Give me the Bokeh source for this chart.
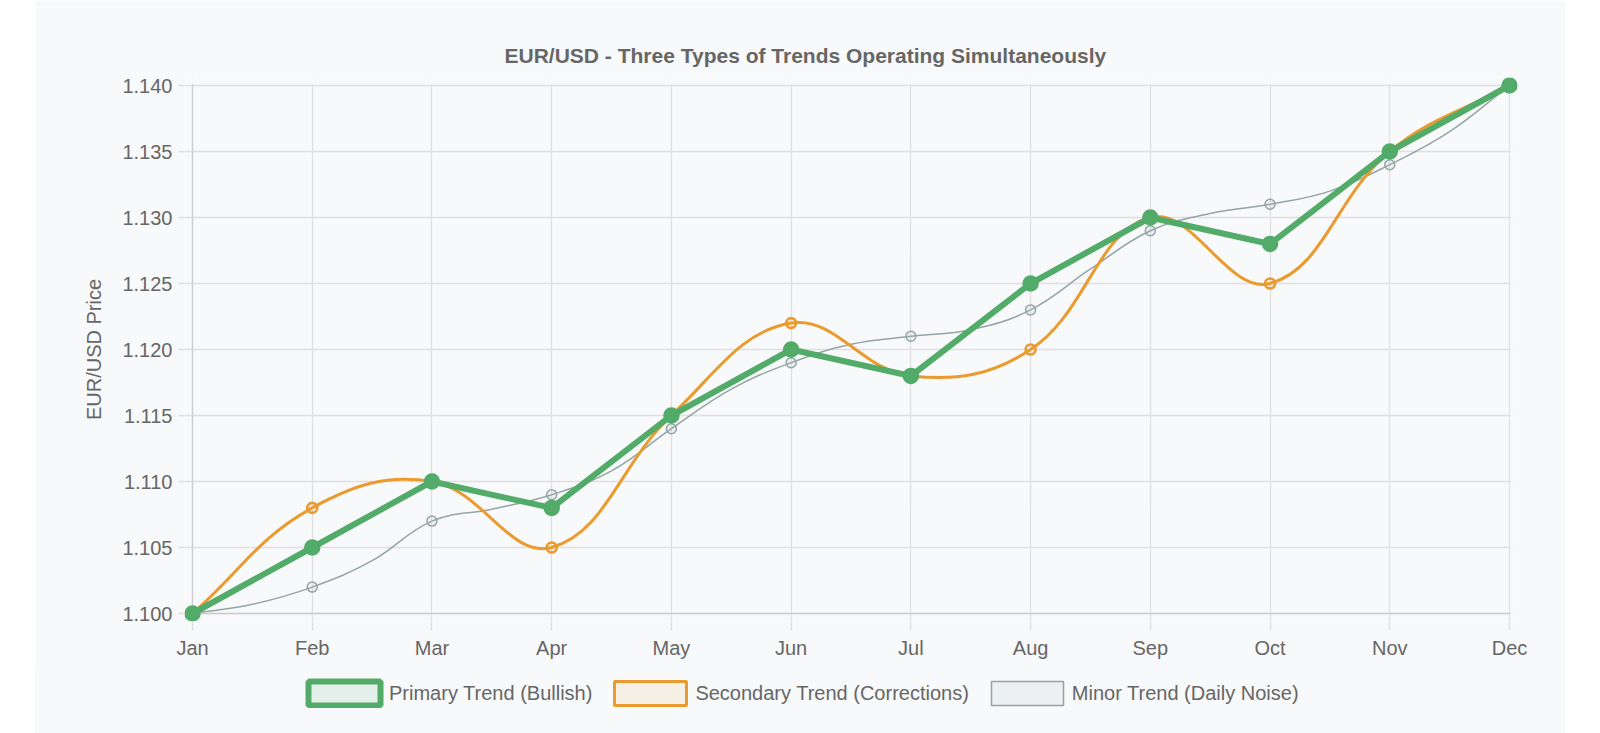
import math
from bokeh.plotting import figure
from bokeh.models import (Range1d, FixedTicker, NumeralTickFormatter, Legend, LegendItem,
                          Title, ColumnDataSource, Spacer, BoxAnnotation, Grid)
from bokeh.layouts import row, column
from bokeh.embed import file_html
from bokeh.resources import INLINE

# ---------------- data ----------------
months = ["Jan", "Feb", "Mar", "Apr", "May", "Jun", "Jul", "Aug", "Sep", "Oct", "Nov", "Dec"]
month_pos = list(range(12))
primary = [1.100, 1.105, 1.110, 1.108, 1.115, 1.120, 1.118, 1.125, 1.130, 1.128, 1.135, 1.140]
secondary = [1.100, 1.108, 1.110, 1.105, 1.115, 1.122, 1.118, 1.120, 1.130, 1.125, 1.135, 1.140]
minor_pos = [0, 0.5, 1, 1.5, 2, 2.5, 3, 3.5, 4, 4.5, 5, 5.5, 6, 6.5, 7, 7.5, 8, 8.5, 9, 9.5, 10, 10.5, 11]
minor = [1.100, 1.1007, 1.102, 1.1040, 1.107, 1.1079, 1.109, 1.1108, 1.114, 1.1170, 1.119, 1.1204,
         1.121, 1.1215, 1.123, 1.1261, 1.129, 1.1303, 1.131, 1.1320, 1.134, 1.1365, 1.140]
minor_monthly = [1.100, 1.102, 1.107, 1.109, 1.114, 1.119, 1.121, 1.123, 1.129, 1.131, 1.134, 1.140]
y_ticks = [1.100, 1.105, 1.110, 1.115, 1.120, 1.125, 1.130, 1.135, 1.140]

title_text = "EUR/USD - Three Types of Trends Operating Simultaneously"
y_label = "EUR/USD Price"
labels = ["Primary Trend (Bullish)", "Secondary Trend (Corrections)", "Minor Trend (Daily Noise)"]

GREEN = "#52ab68"
ORANGE = "#eb9b2d"
GRAY = "#95a5a6"
TEXT = "#666666"
FONT = "Liberation Sans"
BG = "#f8f9fa"
GRID = "#dfe0e1"
BORDER = "#cdcecf"

X0, X1 = 0, 11
Y0, Y1 = 1.100, 1.140
NAN = float("nan")

# chart area in pixels (value axis span), plus a little room so edge markers are not cut
AREA_W, AREA_H, PAD = 1317, 528, 8
padx = PAD * (X1 - X0) / AREA_W
pady = PAD * (Y1 - Y0) / AREA_H
BORDER_L, BORDER_R = 157 - PAD, 56 - PAD


def spline_segments(xs, ys, tension=0.4):
    """Chart.js style spline control points (computed in pixel space)."""
    px_x = AREA_W / (X1 - X0)
    px_y = AREA_H / (Y1 - Y0)
    n = len(xs)
    prev_cp, next_cp = [], []
    for i in range(n):
        a = i - 1 if i > 0 else i
        b = i + 1 if i < n - 1 else i
        pxa, pya = xs[a] * px_x, ys[a] * px_y
        cx, cy = xs[i] * px_x, ys[i] * px_y
        nxb, nyb = xs[b] * px_x, ys[b] * px_y
        d01 = math.hypot(cx - pxa, cy - pya)
        d12 = math.hypot(nxb - cx, nyb - cy)
        tot = d01 + d12
        s01 = d01 / tot if tot else 0
        s12 = d12 / tot if tot else 0
        fa, fb = tension * s01, tension * s12
        pcx, pcy = cx - fa * (nxb - pxa), cy - fa * (nyb - pya)
        ncx, ncy = cx + fb * (nxb - pxa), cy + fb * (nyb - pya)
        clamp_x = lambda v: min(max(v / px_x, X0), X1)
        clamp_y = lambda v: min(max(v / px_y, Y0), Y1)
        prev_cp.append((clamp_x(pcx), clamp_y(pcy)))
        next_cp.append((clamp_x(ncx), clamp_y(ncy)))
    d = dict(x0=[], y0=[], x1=[], y1=[], cx0=[], cy0=[], cx1=[], cy1=[])
    for i in range(n - 1):
        d["x0"].append(xs[i]); d["y0"].append(ys[i])
        d["x1"].append(xs[i + 1]); d["y1"].append(ys[i + 1])
        d["cx0"].append(next_cp[i][0]); d["cy0"].append(next_cp[i][1])
        d["cx1"].append(prev_cp[i + 1][0]); d["cy1"].append(prev_cp[i + 1][1])
    return ColumnDataSource(d)


p = figure(width=1530, height=665, output_backend="svg", toolbar_location=None,
           x_range=Range1d(X0 - padx, X1 + padx), y_range=Range1d(Y0 - pady, Y1 + pady),
           min_border_left=BORDER_L, min_border_right=BORDER_R,
           min_border_top=85 - PAD, min_border_bottom=52 - PAD)
p.background_fill_color = BG
p.border_fill_color = BG
p.outline_line_color = None

# title
t = Title(text=title_text, align="left", offset=320, text_font_size="21px",
          text_font_style="bold", text_color=TEXT, text_font=FONT, standoff=22)
p.add_layout(t, "above")

# axes (lines hidden: the chart-area border is drawn as grid lines at Jan / 1.100)
p.xaxis.ticker = FixedTicker(ticks=month_pos)
p.xaxis.major_label_overrides = {i: m for i, m in zip(month_pos, months)}
p.yaxis.ticker = FixedTicker(ticks=y_ticks)
p.yaxis.formatter = NumeralTickFormatter(format="0.000")
for ax in (p.xaxis, p.yaxis):
    ax.axis_line_color = None
    ax.major_tick_line_color = GRID
    ax.major_tick_line_width = 1.3
    ax.major_tick_in = 0
    ax.minor_tick_line_color = None
    ax.major_label_text_font = FONT
    ax.major_label_text_font_size = "20px"
    ax.major_label_text_color = TEXT
p.xaxis.major_tick_out = 17 - PAD
p.xaxis.major_label_standoff = 6
p.yaxis.major_tick_out = 14 - PAD
p.yaxis.major_label_standoff = 6
p.yaxis.axis_label = y_label
p.yaxis.axis_label_text_font = FONT
p.yaxis.axis_label_text_font_size = "20px"
p.yaxis.axis_label_text_font_style = "normal"
p.yaxis.axis_label_text_color = TEXT
p.yaxis.axis_label_standoff = 14

p.xgrid.ticker = FixedTicker(ticks=month_pos)
p.ygrid.ticker = FixedTicker(ticks=y_ticks)
p.grid.grid_line_color = GRID
p.grid.grid_line_width = 1.3

# slightly darker border lines at the chart-area edges
p.add_layout(Grid(dimension=0, ticker=FixedTicker(ticks=[X0]), grid_line_color=BORDER,
                  grid_line_width=1.3))
p.add_layout(Grid(dimension=1, ticker=FixedTicker(ticks=[Y0]), grid_line_color=BORDER,
                  grid_line_width=1.3))

# hide grid stubs beyond the chart area (top and right margins), beneath the data
p.add_layout(BoxAnnotation(bottom=Y1 + pady * 0.15, fill_color=BG, fill_alpha=1,
                           line_color=None, level="underlay"))
p.add_layout(BoxAnnotation(left=X1 + padx * 0.15, fill_color=BG, fill_alpha=1,
                           line_color=None, level="underlay"))

# minor trend (drawn first, underneath)
minor_src = spline_segments(minor_pos, minor)
p.bezier(x0="x0", y0="y0", x1="x1", y1="y1", cx0="cx0", cy0="cy0", cx1="cx1", cy1="cy1",
         source=minor_src, line_color=GRAY, line_width=1.5)
p.scatter(month_pos, minor_monthly, size=10, marker="circle", line_color=GRAY, line_width=1.5,
          fill_color=GRAY, fill_alpha=0.1)

# secondary trend
sec_src = spline_segments(month_pos, secondary)
p.bezier(x0="x0", y0="y0", x1="x1", y1="y1", cx0="cx0", cy0="cy0", cx1="cx1", cy1="cy1",
         source=sec_src, line_color=ORANGE, line_width=3)
p.scatter(month_pos, secondary, size=10, marker="circle", line_color=ORANGE, line_width=2.6,
          fill_color=ORANGE, fill_alpha=0.1)

# primary trend (on top)
p.line(month_pos, primary, line_color=GREEN, line_width=6, line_join="miter")
p.scatter(month_pos, primary, size=15, marker="circle", line_color=GREEN, line_width=1.5,
          fill_color=GREEN)

# ---------------- legend strip (separate figure under the chart) ----------------
lg = figure(width=1530, height=68, output_backend="svg", toolbar_location=None,
            x_range=Range1d(0, 1), y_range=Range1d(0, 1),
            min_border_left=BORDER_L, min_border_right=BORDER_R,
            min_border_top=0, min_border_bottom=0)
lg.background_fill_alpha = 0
lg.border_fill_alpha = 0
lg.styles = {"background-color": BG}
lg.outline_line_color = None
lg.axis.visible = False
lg.grid.visible = False

# legend swatches: renderers with a single NaN (invisible) entry
q1 = lg.quad(left=[NAN], right=[NAN], top=[NAN], bottom=[NAN], fill_color=GREEN, fill_alpha=0.1,
             line_color=GREEN, line_width=6)
q2 = lg.quad(left=[NAN], right=[NAN], top=[NAN], bottom=[NAN], fill_color=ORANGE, fill_alpha=0.1,
             line_color=ORANGE, line_width=3)
q3 = lg.quad(left=[NAN], right=[NAN], top=[NAN], bottom=[NAN], fill_color=GRAY, fill_alpha=0.1,
             line_color=GRAY, line_width=1.5)

legend = Legend(items=[LegendItem(label=labels[0], renderers=[q1]),
                       LegendItem(label=labels[1], renderers=[q2]),
                       LegendItem(label=labels[2], renderers=[q3])],
                orientation="horizontal", location=(107 + PAD, 25),
                glyph_width=90, glyph_height=30, label_height=30,
                label_standoff=0, spacing=13, padding=0, margin=0,
                label_text_font=FONT, label_text_font_size="20px", label_text_color=TEXT,
                background_fill_alpha=0, border_line_alpha=0)
lg.add_layout(legend)

layout = row(Spacer(width=35), column(p, lg))
open("out.html", "w").write(file_html(layout, INLINE))
